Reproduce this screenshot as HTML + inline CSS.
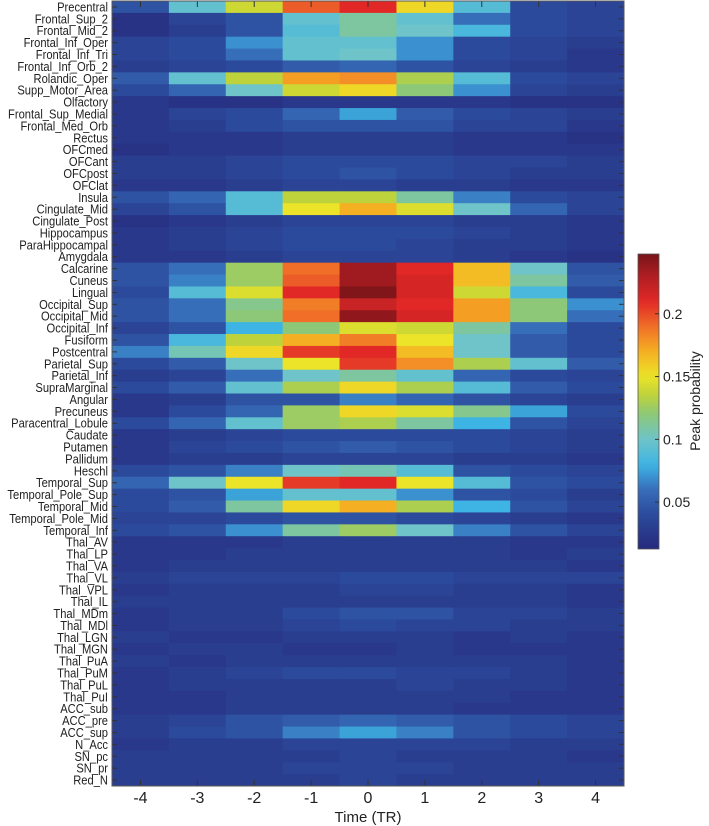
<!DOCTYPE html>
<html><head><meta charset="utf-8"><style>
html,body{margin:0;padding:0;background:#fff;}
svg{display:block;font-family:"Liberation Sans",Arial,sans-serif;}
</style></head><body>
<svg id="chart" width="709" height="826" viewBox="0 0 709 826" xmlns="http://www.w3.org/2000/svg">
<g id="cells"></g>
<g id="ylabels"></g>
<g id="xlabels"></g>
<g id="ticks"></g>
<rect x="112" y="1" width="512" height="785" fill="none" stroke="#555" stroke-width="1"/>
<text x="368" y="822" font-size="15" text-anchor="middle" fill="#222">Time (TR)</text>
<defs><linearGradient id="cbgrad" x1="0" y1="1" x2="0" y2="0"></linearGradient></defs>
<rect x="638" y="254" width="21" height="295" fill="url(#cbgrad)" stroke="#555" stroke-width="0.8"/>
<g id="cbticks"></g>
<text transform="translate(700,401) rotate(-90)" font-size="14" text-anchor="middle" fill="#222">Peak probability</text>
</svg>
<script>
const timePoints = [-4,-3,-2,-1,0,1,2,3,4];
const regions = ["Precentral","Frontal_Sup_2","Frontal_Mid_2","Frontal_Inf_Oper","Frontal_Inf_Tri","Frontal_Inf_Orb_2","Rolandic_Oper","Supp_Motor_Area","Olfactory","Frontal_Sup_Medial","Frontal_Med_Orb","Rectus","OFCmed","OFCant","OFCpost","OFClat","Insula","Cingulate_Mid","Cingulate_Post","Hippocampus","ParaHippocampal","Amygdala","Calcarine","Cuneus","Lingual","Occipital_Sup","Occipital_Mid","Occipital_Inf","Fusiform","Postcentral","Parietal_Sup","Parietal_Inf","SupraMarginal","Angular","Precuneus","Paracentral_Lobule","Caudate","Putamen","Pallidum","Heschl","Temporal_Sup","Temporal_Pole_Sup","Temporal_Mid","Temporal_Pole_Mid","Temporal_Inf","Thal_AV","Thal_LP","Thal_VA","Thal_VL","Thal_VPL","Thal_IL","Thal_MDm","Thal_MDl","Thal_LGN","Thal_MGN","Thal_PuA","Thal_PuM","Thal_PuL","Thal_PuI","ACC_sub","ACC_pre","ACC_sup","N_Acc","SN_pc","SN_pr","Red_N"];
const peakValues = [
[0.045,0.095,0.14,0.195,0.21,0.155,0.09,0.04,0.035],
[0.02,0.035,0.045,0.095,0.11,0.095,0.06,0.04,0.035],
[0.02,0.03,0.045,0.09,0.11,0.1,0.085,0.04,0.035],
[0.035,0.04,0.07,0.095,0.095,0.07,0.04,0.035,0.03],
[0.035,0.04,0.06,0.095,0.1,0.07,0.04,0.035,0.025],
[0.03,0.035,0.04,0.05,0.055,0.045,0.035,0.03,0.025],
[0.05,0.095,0.135,0.175,0.18,0.13,0.09,0.04,0.035],
[0.04,0.055,0.1,0.14,0.155,0.12,0.07,0.035,0.03],
[0.025,0.02,0.02,0.025,0.025,0.025,0.025,0.02,0.02],
[0.025,0.035,0.04,0.055,0.075,0.05,0.04,0.035,0.03],
[0.025,0.03,0.04,0.045,0.045,0.045,0.035,0.035,0.025],
[0.025,0.025,0.025,0.03,0.03,0.03,0.025,0.025,0.02],
[0.02,0.025,0.025,0.03,0.03,0.03,0.025,0.025,0.025],
[0.03,0.03,0.035,0.04,0.04,0.04,0.035,0.035,0.03],
[0.03,0.03,0.035,0.04,0.045,0.04,0.035,0.03,0.03],
[0.025,0.025,0.03,0.035,0.035,0.03,0.03,0.025,0.025],
[0.045,0.055,0.09,0.135,0.135,0.11,0.065,0.04,0.035],
[0.035,0.045,0.09,0.15,0.17,0.145,0.1,0.055,0.035],
[0.02,0.025,0.03,0.035,0.035,0.035,0.03,0.03,0.025],
[0.025,0.03,0.035,0.04,0.04,0.04,0.035,0.03,0.025],
[0.025,0.03,0.035,0.04,0.04,0.035,0.03,0.03,0.025],
[0.025,0.025,0.03,0.035,0.035,0.035,0.03,0.025,0.02],
[0.045,0.06,0.125,0.19,0.235,0.21,0.165,0.1,0.045],
[0.045,0.065,0.125,0.195,0.235,0.215,0.165,0.11,0.05],
[0.04,0.09,0.145,0.21,0.245,0.215,0.14,0.085,0.04],
[0.045,0.06,0.115,0.185,0.22,0.21,0.175,0.12,0.07],
[0.045,0.06,0.12,0.19,0.24,0.215,0.175,0.12,0.06],
[0.035,0.045,0.08,0.12,0.145,0.14,0.11,0.06,0.04],
[0.045,0.085,0.135,0.17,0.185,0.15,0.1,0.05,0.04],
[0.065,0.105,0.155,0.205,0.21,0.165,0.1,0.05,0.04],
[0.04,0.05,0.1,0.15,0.205,0.18,0.13,0.095,0.05],
[0.03,0.035,0.06,0.1,0.11,0.095,0.055,0.04,0.035],
[0.04,0.05,0.095,0.13,0.155,0.13,0.09,0.05,0.04],
[0.025,0.03,0.045,0.045,0.065,0.055,0.045,0.035,0.03],
[0.025,0.04,0.055,0.125,0.155,0.145,0.115,0.075,0.04],
[0.04,0.055,0.095,0.125,0.13,0.11,0.08,0.045,0.035],
[0.025,0.03,0.035,0.04,0.04,0.04,0.04,0.035,0.03],
[0.025,0.035,0.04,0.045,0.05,0.045,0.04,0.035,0.03],
[0.025,0.03,0.03,0.035,0.035,0.035,0.03,0.03,0.025],
[0.04,0.045,0.065,0.1,0.105,0.09,0.045,0.04,0.035],
[0.055,0.1,0.15,0.205,0.21,0.15,0.09,0.045,0.04],
[0.04,0.045,0.075,0.095,0.095,0.07,0.045,0.04,0.03],
[0.04,0.05,0.11,0.155,0.17,0.13,0.08,0.045,0.035],
[0.035,0.035,0.04,0.045,0.045,0.04,0.035,0.03,0.025],
[0.04,0.045,0.07,0.11,0.125,0.1,0.065,0.045,0.035],
[0.025,0.025,0.025,0.03,0.03,0.03,0.03,0.025,0.025],
[0.025,0.025,0.03,0.03,0.03,0.03,0.03,0.025,0.03],
[0.025,0.03,0.03,0.03,0.03,0.03,0.03,0.03,0.025],
[0.03,0.035,0.035,0.035,0.04,0.04,0.035,0.035,0.035],
[0.025,0.03,0.03,0.03,0.035,0.035,0.03,0.03,0.025],
[0.03,0.03,0.03,0.03,0.03,0.03,0.03,0.03,0.025],
[0.025,0.03,0.03,0.04,0.045,0.045,0.035,0.035,0.03],
[0.025,0.03,0.03,0.035,0.04,0.035,0.035,0.03,0.03],
[0.03,0.025,0.025,0.03,0.03,0.03,0.025,0.03,0.025],
[0.025,0.03,0.03,0.025,0.025,0.03,0.025,0.025,0.025],
[0.03,0.025,0.03,0.03,0.03,0.03,0.03,0.03,0.025],
[0.025,0.03,0.035,0.04,0.04,0.035,0.035,0.03,0.025],
[0.025,0.03,0.03,0.03,0.03,0.035,0.03,0.03,0.025],
[0.025,0.025,0.03,0.03,0.03,0.03,0.03,0.025,0.025],
[0.025,0.025,0.03,0.03,0.03,0.03,0.025,0.025,0.025],
[0.03,0.035,0.045,0.05,0.055,0.05,0.045,0.04,0.035],
[0.03,0.04,0.045,0.065,0.075,0.065,0.045,0.04,0.035],
[0.025,0.03,0.03,0.035,0.035,0.035,0.035,0.03,0.03],
[0.03,0.03,0.03,0.03,0.035,0.03,0.03,0.03,0.025],
[0.03,0.03,0.03,0.035,0.035,0.035,0.03,0.03,0.03],
[0.03,0.03,0.03,0.03,0.035,0.03,0.03,0.03,0.03]
];
const colorbarTicks = [0.05,0.1,0.15,0.2];
const colorbarLabels = ["0.05","0.1","0.15","0.2"];
const vMin = 0.0127, vMax = 0.2476;

const stops = [[0.0127,[38,42,125]],[0.04,[44,74,155]],[0.06,[55,110,185]],[0.08,[62,180,228]],[0.1,[110,196,200]],[0.12,[140,200,120]],[0.135,[190,210,60]],[0.15,[235,228,40]],[0.17,[245,175,35]],[0.19,[240,110,40]],[0.21,[225,40,38]],[0.23,[175,30,35]],[0.2476,[120,20,25]]];
function color(v){
  v=Math.max(vMin,Math.min(vMax,v));
  for(let i=1;i<stops.length;i++){
    if(v<=stops[i][0]){
      const a=stops[i-1],b=stops[i],t=(v-a[0])/(b[0]-a[0]);
      const c=a[1].map((x,k)=>Math.round(x+(b[1][k]-x)*t));
      return `rgb(${c[0]},${c[1]},${c[2]})`;
    }
  }
  return 'rgb(120,20,25)';
}
const NS="http://www.w3.org/2000/svg";
const X0=112,X1=624,Y0=1,Y1=786;
const colW=(X1-X0)/timePoints.length, rowH=(Y1-Y0)/regions.length;
const xScale=i=>X0+i*colW;
const yScale=j=>Y0+j*rowH;
const cbTop=254,cbBot=549;
const cbScale=v=>cbBot-(v-vMin)/(vMax-vMin)*(cbBot-cbTop);
function mk(tag,attrs,parent){const e=document.createElementNS(NS,tag);for(const k in attrs)e.setAttribute(k,attrs[k]);parent.appendChild(e);return e;}

const cells=document.getElementById('cells');
peakValues.forEach((row,j)=>row.forEach((v,i)=>{
  const r=mk('rect',{x:xScale(i),y:yScale(j),width:colW+0.5,height:rowH+0.5,fill:color(v)},cells);
  
  
}));
const yl=document.getElementById('ylabels'), tk=document.getElementById('ticks');
regions.forEach((name,j)=>{
  const cy=yScale(j)+rowH/2;
  const t=mk('text',{x:0,y:0,'font-size':13,'text-anchor':'end',fill:'#222',transform:`translate(108,${cy+4.5}) scale(0.86,1)`},yl);
  t.textContent=name;
  
  
  mk('line',{x1:X0,x2:X0+5,y1:cy,y2:cy,stroke:'#333','stroke-width':1},tk);
  mk('line',{x1:X1-5,x2:X1,y1:cy,y2:cy,stroke:'#333','stroke-width':1},tk);
});
const xl=document.getElementById('xlabels');
timePoints.forEach((tp,i)=>{
  const cx=xScale(i)+colW/2;
  const t=mk('text',{x:cx,y:803,'font-size':16,'text-anchor':'middle',fill:'#222'},xl);
  t.textContent=String(tp);
  
  
  mk('line',{x1:cx,x2:cx,y1:Y0,y2:Y0+6,stroke:'#333','stroke-width':1},tk);
  mk('line',{x1:cx,x2:cx,y1:Y1-6,y2:Y1,stroke:'#333','stroke-width':1},tk);
});
const grad=document.getElementById('cbgrad');
for(let k=0;k<=40;k++){
  const v=vMin+(vMax-vMin)*k/40;
  mk('stop',{offset:(k/40*100)+'%','stop-color':color(v)},grad);
}
const cbt=document.getElementById('cbticks');
colorbarTicks.forEach((v,i)=>{
  const y=cbScale(v);
  mk('line',{x1:655,x2:659,y1:y,y2:y,stroke:'#333','stroke-width':1},cbt);
  const t=mk('text',{x:663,y:y+5,'font-size':14,fill:'#222'},cbt);
  t.textContent=colorbarLabels[i];
  
  
});
</script>
</body></html>
